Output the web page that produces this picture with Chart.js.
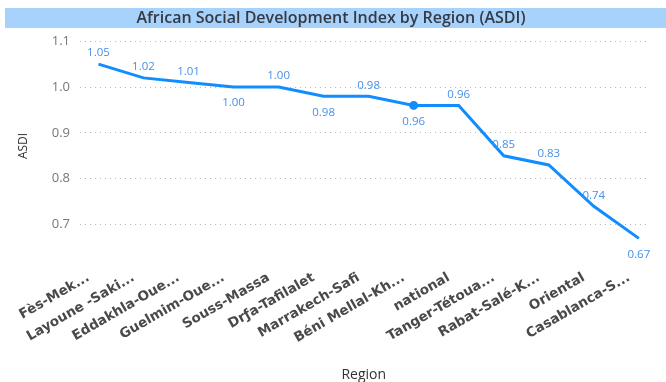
<!DOCTYPE html>
<html>
<head>
<meta charset="utf-8">
<script src="https://cdn.jsdelivr.net/npm/chart.js@4"></script>
<style>
html,body{margin:0;padding:0;background:#fff;}
</style>
</head>
<body>
<canvas id="asdiChart" width="666" height="382"></canvas>
<script>
const regions = ['Fès-Mek...', 'Layoune -Saki...', 'Eddakhla-Oue...', 'Guelmim-Oue...', 'Souss-Massa', 'Drƒa-Tafilalet', 'Marrakech-Safi', 'Béni Mellal-Kh...', 'national', 'Tanger-Tétoua...', 'Rabat-Salé-K...', 'Oriental', 'Casablanca-S...']
const asdi = [1.05, 1.02, 1.01, 1.00, 1.00, 0.98, 0.98, 0.96, 0.96, 0.85, 0.83, 0.74, 0.67]
const yTicks = [0.7, 0.8, 0.9, 1.0, 1.1]

// blue band behind the title
const titleBand = {
  id: 'titleBand',
  beforeDraw(chart) {
    const c = chart.ctx
    c.save()
    c.fillStyle = '#a6d2fb'
    c.fillRect(5, 8, chart.width - 5, 20)
    c.restore()
  }
}

// value labels, some under the line like in power bi
const belowIdx = [3, 5, 7, 12]
const valueLabels = {
  id: 'valueLabels',
  afterDatasetsDraw(chart) {
    const c = chart.ctx
    const meta = chart.getDatasetMeta(0)
    c.save()
    c.font = '11.5px "Open Sans"'
    c.fillStyle = '#4690e8'
    c.textAlign = 'center'
    c.textBaseline = 'middle'
    meta.data.forEach((pt, i) => {
      const dy = belowIdx.includes(i) ? 16 : -11
      c.fillText(asdi[i].toFixed(2), pt.x, pt.y + dy)
    })
    c.restore()
  }
}

let ctx = document.getElementById('asdiChart').getContext('2d')
let chart = new Chart(ctx, {
  type: 'line',
  data: {
    datasets: [{
      label: 'ASDI',
      data: asdi.map((v, i) => ({x: i, y: v})),
      borderColor: '#118DFF',
      backgroundColor: '#118DFF',
      borderWidth: 3,
      pointRadius: c => c.dataIndex === 7 ? 3 : 0,
      pointHoverRadius: 0,
      tension: 0,
      fill: false
    }]
  },
  options: {
    responsive: false,
    animation: false,
    layout: {padding: {left: 0, right: 4, top: 0, bottom: 0}},
    plugins: {
      legend: {display: false},
      tooltip: {enabled: false},
      title: {
        display: true,
        text: 'African Social Development Index by Region (ASDI)',
        color: '#363a45',
        font: {family: '"Open Sans"', size: 16, weight: '600'},
        padding: {top: 9, bottom: 13}
      }
    },
    scales: {
      x: {
        type: 'linear',
        min: -0.41,
        max: 12.19,
        afterBuildTicks: axis => { axis.ticks = regions.map((r, i) => ({value: i})) },
        grid: {display: false, drawTicks: false},
        border: {display: false},
        ticks: {
          autoSkip: false,
          minRotation: 30,
          maxRotation: 30,
          padding: 19,
          labelOffset: -10,
          color: '#4a4a4a',
          font: {family: '"DejaVu Sans"', size: 13.5, weight: 'bold'},
          callback: v => regions[v]
        },
        title: {
          display: true,
          text: 'Region',
          color: '#333',
          font: {family: '"Open Sans"', size: 14, lineHeight: 1.05},
          padding: {top: 2, bottom: 0}
        }
      },
      y: {
        min: 0.643,
        max: 1.1,
        afterBuildTicks: axis => { axis.ticks = yTicks.map(v => ({value: v})) },
        afterFit: axis => { axis.width = 80 },
        grid: {color: '#b8b8b8', drawTicks: false, lineWidth: 1},
        border: {display: false, dash: [1, 4]},
        ticks: {
          padding: 10,
          color: '#777',
          font: {family: '"Open Sans"', size: 13},
          callback: v => v.toFixed(1)
        },
        title: {
          display: true,
          text: 'ASDI',
          color: '#333',
          font: {family: '"Open Sans"', size: 12},
          padding: {top: 16, bottom: 0}
        }
      }
    }
  },
  plugins: [titleBand, valueLabels]
})
</script>
</body>
</html>
